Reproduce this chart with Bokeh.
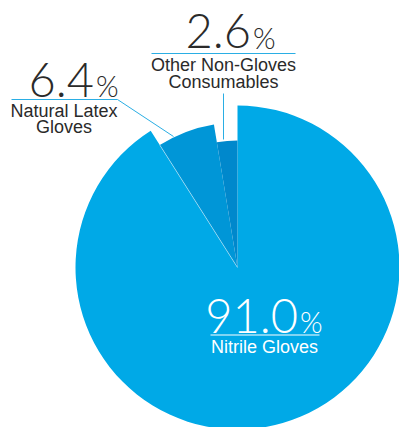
import numpy as np
from bokeh.plotting import figure
from bokeh.models import Range1d, ColumnDataSource
from bokeh.core.properties import value
from bokeh.embed import file_html
from bokeh.resources import INLINE

# ---- data ----
categories = ["Nitrile Gloves", "Natural Latex Gloves", "Other Non-Gloves Consumables"]
shares = [91.0, 6.4, 2.6]
share_labels = ["91.0", "6.4", "2.6"]
name_lines = [["Nitrile Gloves"], ["Natural Latex", "Gloves"], ["Other Non-Gloves", "Consumables"]]

# ---- style / layout ----
W, H = 399, 427
CX, CY_PX = 237, 267
radii = [162, 145, 127]
colors = ["#00a9e7", "#0096d7", "#0088cc"]
LEADER = "#2aaee4"
NUM_FONT = value("Lato Light, Lato, sans-serif")
NAME_FONT = value("Liberation Sans")
BASE_FIX = 0.34  # baseline correction in em


def Y(py):
    return H - py


frac = np.array(shares) / sum(shares)
cw_end = np.cumsum(frac) * 2 * np.pi
cw_start = cw_end - frac * 2 * np.pi
start = np.pi / 2 - cw_end
end = np.pi / 2 - cw_start

src = ColumnDataSource(dict(cat=categories, start=start, end=end, r=radii, color=colors))

p = figure(width=W, height=H, x_range=Range1d(0, W), y_range=Range1d(0, H),
           output_backend="svg", toolbar_location=None, min_border=0,
           background_fill_color="white", border_fill_color="white")
p.axis.visible = False
p.grid.visible = False
p.outline_line_color = None

p.wedge(x=CX, y=Y(CY_PX), radius="r", start_angle="start", end_angle="end",
        fill_color="color", line_color=None, source=src)

# faint light seam along the start edge of the largest slice
a0 = start[0]
p.line(x=[CX, CX + radii[1] * np.cos(a0)], y=[Y(CY_PX), Y(CY_PX) + radii[1] * np.sin(a0)],
       line_color="white", line_alpha=0.55, line_width=0.8)

layout = [
    dict(jx=298.5, base=331, ux=(210, 319), uy=334.5, nx=264, nb=[352.5], col="white",
         ucol="white", leader=None),
    dict(jx=94.5, base=95, ux=(11, 117), uy=99, nx=63.5, nb=[116.5, 133], col="#2a2a2a",
         ucol=LEADER, leader=([117, 173], [99, 136])),
    dict(jx=251.5, base=46.5, ux=(151, 295), uy=53, nx=223, nb=[70.5, 87.5], col="#2a2a2a",
         ucol=LEADER, leader=([223, 223], [93, 139])),
]

NUM_SIZE, PCT_SIZE, NAME_SIZE = 47, 29, 18


def ty(base, size):
    return Y(base - BASE_FIX * size)


for lab, lines, L in zip(share_labels, name_lines, layout):
    p.text(x=[L["jx"] - 1], y=[ty(L["base"], NUM_SIZE)], text=[lab], text_font=NUM_FONT,
           text_font_size=f"{NUM_SIZE}px", text_align="right", text_baseline="alphabetic",
           text_color=L["col"])
    p.text(x=[L["jx"] + 1], y=[ty(L["base"], PCT_SIZE)], text=["%"], text_font=NUM_FONT,
           text_font_size=f"{PCT_SIZE}px", text_align="left", text_baseline="alphabetic",
           text_color=L["col"])
    p.line(x=list(L["ux"]), y=[Y(L["uy"])] * 2, line_color=L["ucol"], line_width=1.2)
    p.text(x=[L["nx"]] * len(lines), y=[ty(b, NAME_SIZE) for b in L["nb"]], text=lines,
           text_font=NAME_FONT, text_font_size=f"{NAME_SIZE}px", text_align="center",
           text_baseline="alphabetic", text_color=L["col"])
    if L["leader"]:
        xs, ys = L["leader"]
        p.line(x=xs, y=[Y(v) for v in ys], line_color=LEADER, line_width=1)

open("out.html", "w").write(file_html(p, INLINE))
